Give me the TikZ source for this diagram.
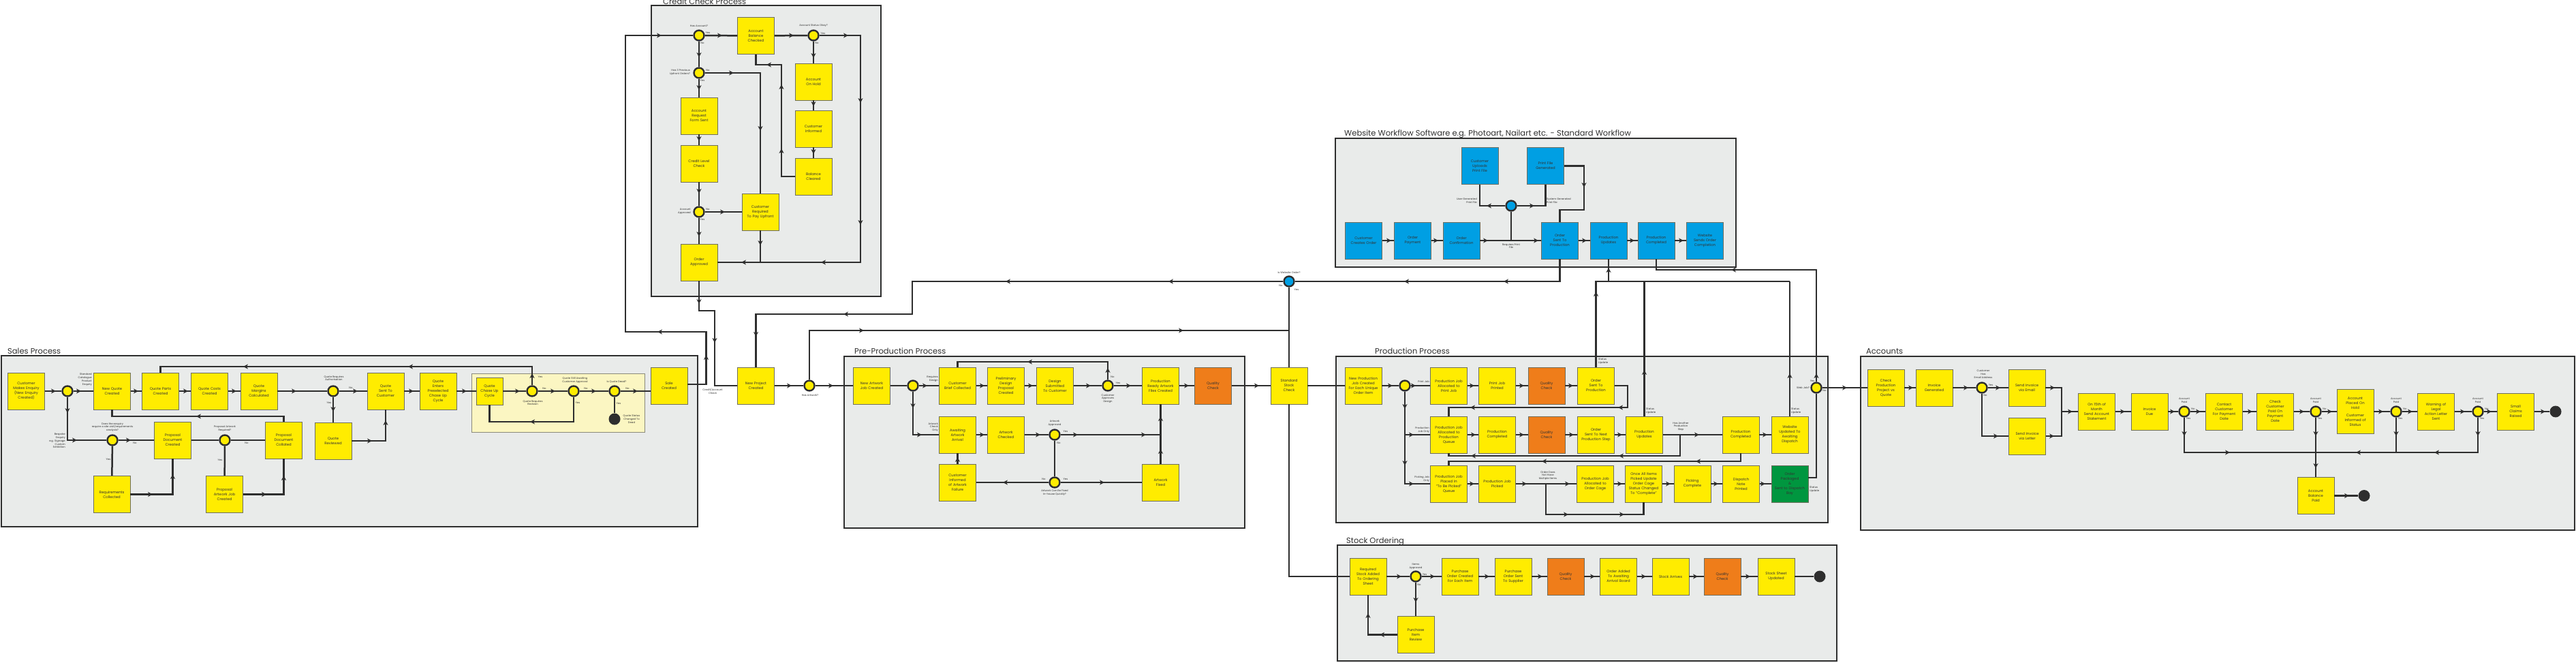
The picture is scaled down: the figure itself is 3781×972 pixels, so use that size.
\documentclass[tikz,border=0pt]{standalone}
\usepackage{fontspec}
\setmainfont{Poppins}
\definecolor{ybox}{HTML}{FFEC00}
\definecolor{obox}{HTML}{EF7D1A}
\definecolor{bluebox}{HTML}{009FE3}
\definecolor{greenbox}{HTML}{00963F}
\definecolor{framefill}{HTML}{E9EBEA}
\definecolor{grpfill}{HTML}{FBF6C2}
\definecolor{grpb}{HTML}{8A8A7A}
\definecolor{linec}{HTML}{2E2E2E}
\definecolor{boxb}{HTML}{6E6E5E}
\definecolor{txt}{HTML}{333333}
\newcommand\arrmark[3]{\fill[linec, shift={(#1,#2)}, rotate=#3] (4,0) -- (-3,3.6) -- (-1,0) -- (-3,-3.6) -- cycle;}
\newcommand\aR[2]{\arrmark{#1}{#2}{0}}
\newcommand\aL[2]{\arrmark{#1}{#2}{180}}
\newcommand\aU[2]{\arrmark{#1}{#2}{90}}
\newcommand\aD[2]{\arrmark{#1}{#2}{270}}
\tikzset{
 box/.style={rectangle, draw=boxb, line width=0.8pt, fill=ybox, minimum width=54pt, minimum height=54pt, inner sep=0.5pt, text width=52pt, align=center, font=\fontsize{5.3}{7}\selectfont, text=txt},
 obx/.style={box, fill=obox},
 bbx/.style={box, fill=bluebox},
 gbx/.style={box, fill=greenbox},
 dec/.style={circle, fill=ybox, draw=linec, line width=2.4pt, minimum size=15pt, inner sep=0pt},
 bdec/.style={dec, fill=bluebox},
 enddot/.style={circle, fill=linec, minimum size=17pt, inner sep=0pt},
 ln/.style={draw=linec, line width=2.5pt},
 frame/.style={draw=linec, line width=2.8pt, fill=framefill},
 ttl/.style={font=\fontsize{11.5}{13}\selectfont, anchor=base west, inner sep=0pt, text=linec},
 lbl/.style={font=\fontsize{3.8}{4.8}\selectfont, align=center, inner sep=0pt, text=txt},
 lblr/.style={lbl, align=right, anchor=east},
 lbll/.style={lbl, align=left, anchor=west}
}
\begin{document}
\begin{tikzpicture}[x=1pt,y=-1pt]
\useasboundingbox (0,0) rectangle (3781,972);
% ---------- frames ----------
\draw[frame] (2,522) rectangle (1024,773);
\draw[frame] (956,8) rectangle (1293,435);
\draw[frame] (1239,523) rectangle (1827,775);
\draw[frame] (1960,203) rectangle (2548,392);
\draw[frame] (1961,523) rectangle (2683,767);
\draw[frame] (2731,523) rectangle (3779,778);
\draw[frame] (1963,800) rectangle (2696,970);
\draw[fill=grpfill, draw=grpb, line width=1pt] (692,548) rectangle (946,634);
\node[ttl] (tsales) at (11,519) {Sales Process};
\node[ttl] (tcredit) at (973,6) {Credit Check Process};
\node[ttl] (tpre) at (1254,519) {Pre-Production Process};
\node[ttl] (tweb) at (1973,199) {Website Workflow Software e.g. Photoart, Nailart etc. - Standard Workflow};
\node[ttl] (tprod) at (2018,519) {Production Process};
\node[ttl] (tacc) at (2739,519) {Accounts};
\node[ttl] (tstock) at (1976,797) {Stock Ordering};
% ---------- Sales nodes ----------
\node[box] (s1) at (38.5,574) {Customer\\Makes Enquiry\\(New Enquiry\\Created)};
\node[dec] (sd1) at (99,574) {};
\node[box] (s2) at (164.5,574) {New Quote\\Created};
\node[box] (s3) at (235.5,574) {Quote Parts\\Created};
\node[box] (s4) at (307.5,574) {Quote Costs\\Created};
\node[box] (s5) at (380,574) {Quote\\Margins\\Calculated};
\node[dec] (sd2) at (489,574) {};
\node[box] (s6) at (489,647) {Quote\\Reviewed};
\node[box] (s7) at (566,574) {Quote\\Sent To\\Customer};
\node[box] (s8) at (643,574) {Quote\\Enters\\Preselected\\Chase Up\\Cycle};
\node[box, minimum width=39pt, minimum height=40pt, text width=37pt] (s9) at (718.5,574) {Quote\\Chase Up\\Cycle};
\node[dec] (sd3) at (781,574) {};
\node[dec] (sd4) at (842,574) {};
\node[dec] (sd5) at (902,574) {};
\node[enddot] (se) at (902,615) {};
\node[box] (s10) at (982,566.5) {Sale\\Created};
\node[dec] (sd6) at (165,646) {};
\node[box] (s11) at (253.5,646) {Proposal\\Document\\Created};
\node[box] (s12) at (164,725.5) {Requirements\\Collected};
\node[dec] (sd7) at (330,646) {};
\node[box] (s13) at (416.5,646) {Proposal\\Document\\Collated};
\node[box] (s14) at (329.5,725.5) {Proposal\\Artwork Job\\Created};
% Sales labels
\node[lblr] at (135,557) {Standard\\Catalogue\\Product\\Enquiry};
\node[lblr] at (96,647) {Bespoke\\Enquiry\\e.g. Signage\\Custom\\Exhibition};
\node[lbl] at (165,627) {Does the enquiry\\require a site visit/requirements\\analysis?};
\node[lbl] at (198,650) {No};
\node[lbl] at (159,674) {Yes};
\node[lbl] at (330,629) {Proposal Artwork\\Required?};
\node[lbl] at (362,650) {No};
\node[lbl] at (323,675) {Yes};
\node[lbl] at (490,555) {Quote Requires\\Authorisation};
\node[lbl] at (515,569) {No};
\node[lbl] at (483,591) {Yes};
\node[lbl] at (793,553) {Yes};
\node[lbl] at (799,570) {No};
\node[lbl] at (782,591) {Quote Requires\\Revision};
\node[lbl] at (844,558) {Quote Still Awaiting\\Customer Approval};
\node[lbl] at (860,570) {No};
\node[lbl] at (848,591) {Yes};
\node[lbl] at (905,560) {Is Quote Dead?};
\node[lbl] at (921,570) {No};
\node[lbl] at (908,592) {Yes};
\node[lbl] at (927,615) {Quote Status\\Changed To\\Dead};
\node[lbl] at (1046,574) {Credit/Account\\Check};
% ---------- Credit nodes ----------
\node[dec] (cd1) at (1026,52) {};
\node[box] (c1) at (1109.5,52.5) {Account\\Balance\\Checked};
\node[dec] (cd2) at (1194,52) {};
\node[box] (c2) at (1194,120) {Account\\On Hold};
\node[box] (c3) at (1194,189) {Customer\\Informed};
\node[box] (c4) at (1194,259) {Balance\\Cleared};
\node[dec] (cd3) at (1026,107) {};
\node[box] (c5) at (1026,170) {Account\\Request\\Form Sent};
\node[box] (c6) at (1026,240) {Credit Level\\Check};
\node[dec] (cd4) at (1026,311) {};
\node[box] (c7) at (1116,311) {Customer\\Required\\To Pay Upfront};
\node[box] (c8) at (1026,385) {Order\\Approved};
\node[lbl] at (1026,38) {Has Account?};
\node[lbl] at (1039,48) {Yes};
\node[lbl] at (1031,63) {No};
\node[lbl] at (1194,38) {Account Status Okay?};
\node[lbl] at (1208,49) {Yes};
\node[lbl] at (1199,63) {No};
\node[lblr] at (1013,106) {Has 3 Previous\\Upfront Orders?};
\node[lbl] at (1039,103) {No};
\node[lbl] at (1031,118) {Yes};
\node[lblr] at (1014,310) {Account\\Approved};
\node[lbl] at (1039,307) {No};
\node[lbl] at (1031,322) {Yes};
% ---------- middle ----------
\node[box] (m1) at (1109.5,566) {New Project\\Created};
\node[dec] (md1) at (1188,566) {};
\node[lbl] at (1189,580) {Has Artwork?};
\node[bdec] (bd) at (1892,413) {};
\node[lbl] at (1892,400) {Is Website Order?};
\node[lbl] at (1880,419) {No};
\node[lbl] at (1903,425) {Yes};
\node[box] (st) at (1892,566) {Standard\\Stock\\Check};
% ---------- Pre-production ----------
\node[box] (p1) at (1279.5,566) {New Artwork\\Job Created};
\node[dec] (pd1) at (1340,566) {};
\node[box] (p2) at (1405.5,566) {Customer\\Brief Collected};
\node[box] (p3) at (1405.5,638) {Awaiting\\Artwork\\Arrival};
\node[box] (p4) at (1405.5,708) {Customer\\Informed\\of Artwork\\Failure};
\node[box] (p5) at (1476.5,566) {Preliminary\\Design\\Proposal\\Created};
\node[box] (p6) at (1548.5,566) {Design\\Submitted\\To Customer};
\node[dec] (pd2) at (1626,566) {};
\node[box] (p7) at (1703.5,566) {Production\\Ready Artwork\\Files Created};
\node[obx] (p8) at (1780.5,566) {Quality\\Check};
\node[box] (p9) at (1476.5,638) {Artwork\\Checked};
\node[dec] (pd3) at (1548,638) {};
\node[dec] (pd4) at (1548,708) {};
\node[box] (p10) at (1703.5,708) {Artwork\\Fixed};
\node[lblr] at (1377,556) {Requires\\Design};
\node[lblr] at (1377,627) {Artwork\\Check\\Only};
\node[lbl] at (1626,585) {Customer\\Approves\\Design};
\node[lbl] at (1633,553) {No};
\node[lbl] at (1641,562) {Yes};
\node[lbl] at (1548,621) {Artwork\\Approved};
\node[lbl] at (1564,633) {Yes};
\node[lbl] at (1554,650) {No};
\node[lbl] at (1548,723) {Artwork Can Be Fixed\\In-house Quickly?};
\node[lbl] at (1532,703) {No};
\node[lbl] at (1564,703) {Yes};
% ---------- Web workflow ----------
\node[bbx] (w1) at (2001.5,353) {Customer\\Creates Order};
\node[bbx] (w2) at (2073.5,353) {Order\\Payment};
\node[bbx] (w3) at (2145,353) {Order\\Confirmation};
\node[bbx] (w4) at (2289.5,353) {Order\\Sent To\\Production};
\node[bbx] (w5) at (2361,353) {Production\\Updates};
\node[bbx] (w6) at (2431,353) {Production\\Completed};
\node[bbx] (w7) at (2502.5,353) {Website\\Sends Order\\Completion};
\node[bbx] (w8) at (2172,243.5) {Customer\\Uploads\\Print File};
\node[bbx] (w9) at (2268.5,243.5) {Print File\\Generated};
\node[bdec] (wd) at (2218,302) {};
\node[lblr] at (2168,295) {User Generated\\Print File};
\node[lbll] at (2270,295) {System Generated\\Print File};
\node[lbl] at (2218,361) {Requires Print\\File};
% ---------- Production ----------
\node[box] (n1) at (2001,566) {New Production\\Job Created\\For Each Unique\\Order Item};
\node[dec] (nd1) at (2062,566) {};
\node[box] (n2) at (2126.5,566) {Production Job\\Allocated to\\Print Job};
\node[box] (n3) at (2197.5,566) {Print Job\\Printed};
\node[obx] (n3q) at (2270,566) {Quality\\Check};
\node[box] (n4) at (2342.5,566) {Order\\Sent To\\Production};
\node[box] (n5) at (2126.5,638) {Production Job\\Allocated to\\Production\\Queue};
\node[box] (n6) at (2197.5,638) {Production\\Completed};
\node[obx] (n6q) at (2270,638) {Quality\\Check};
\node[box] (n7) at (2342.5,638) {Order\\Sent To Next\\Production Step};
\node[box] (n8) at (2413.5,638) {Production\\Updates};
\node[box] (n9) at (2555,638) {Production\\Completed};
\node[box] (n10) at (2627,638) {Website\\Updated To\\Awaiting\\Dispatch};
\node[box] (n11) at (2126.5,710) {Production Job\\Placed In\\"To Be Picked"\\Queue};
\node[box] (n12) at (2197.5,710) {Production Job\\Picked};
\node[box] (n13) at (2341.5,710) {Production Job\\Allocated to\\Order Cage};
\node[box] (n14) at (2412.5,710) {Once All Items\\Picked Update\\Order Cage\\Status Changed\\To "Complete"};
\node[box] (n15) at (2484,710) {Picking\\Complete};
\node[box] (n16) at (2555.5,710) {Dispatch\\Note\\Printed};
\node[gbx] (n17) at (2627,710) {Order\\Packaged\\\&\\Sent to Dispatch\\Bay};
\node[dec] (nd2) at (2666,569) {};
\node[lblr] at (2098,560) {Print Job};
\node[lblr] at (2098,631) {Production\\Job Only};
\node[lblr] at (2098,703) {Picking Job\\Only};
\node[lbll] at (2346,530) {Status\\Update};
\node[lbll] at (2416,603) {Status\\Update};
\node[lbl] at (2467,626) {Has Another\\Production\\Step};
\node[lbll] at (2629,603) {Status\\Update};
\node[lbl] at (2272,698) {Order Does\\Not Have\\Multiple Items};
\node[lbll] at (2656,718) {Status\\Update};
\node[lblr] at (2656,569) {Web Job?};
\node[lbl] at (2660,559) {Yes};
\node[lbl] at (2678,573) {No};
% ---------- Accounts ----------
\node[box] (a1) at (2768,569) {Check\\Production\\Project vs\\Quote};
\node[box] (a2) at (2839,569) {Invoice\\Generated};
\node[dec] (ad1) at (2909,569) {};
\node[box] (a3) at (2975,569) {Send Invoice\\via Email};
\node[box] (a4) at (2975.5,640) {Send Invoice\\via Letter};
\node[box] (a5) at (3077.5,604) {On 15th of\\Month\\Send Account\\Statement};
\node[box] (a6) at (3155,604) {Invoice\\Due};
\node[dec] (ad2) at (3206,604) {};
\node[box] (a7) at (3264.5,604) {Contact\\Customer\\For Payment\\Date};
\node[box] (a8) at (3339.5,604) {Check\\Customer\\Paid On\\Payment\\Date};
\node[dec] (ad3) at (3399,604) {};
\node[box, minimum height=65pt] (a9) at (3457,604) {Account\\Placed On\\Hold\\[4pt]Customer\\Informed of\\Status};
\node[dec] (ad4) at (3517,604) {};
\node[box] (a10) at (3575.5,604) {Warning of\\Legal\\Action Letter\\Sent};
\node[dec] (ad5) at (3637,604) {};
\node[box] (a11) at (3692.5,604) {Small\\Claims\\Raised};
\node[enddot] (ae1) at (3751,604) {};
\node[box] (a12) at (3399,727.5) {Account\\Balance\\Paid};
\node[enddot] (ae2) at (3470,727.5) {};
\node[lbl] at (2911,549) {Customer\\Has\\Email Address};
\node[lbl] at (2922,565) {Yes};
\node[lbl] at (2914,580) {No};
\foreach \xx in {3206,3399,3517,3637} {
  \node[lbl] at (\xx,588) {Account\\Paid};
  \node[lbl] at (\xx+13,600) {No};
  \node[lbl] at (\xx+6,614) {Yes};
}
% ---------- Stock ordering ----------
\node[box] (r1) at (2008,846) {Required\\Stock Added\\To Ordering\\Sheet};
\node[dec] (rd) at (2078,846) {};
\node[box] (r2) at (2143,846) {Purchase\\Order Created\\For Each Item};
\node[box] (r3) at (2221,846) {Purchase\\Order Sent\\To Supplier};
\node[obx] (r4) at (2298,846) {Quality\\Check};
\node[box] (r5) at (2375.5,846) {Order Added\\To Awaiting\\Arrival Board};
\node[box] (r6) at (2452,846) {Stock Arrives};
\node[obx] (r7) at (2528,846) {Quality\\Check};
\node[box] (r8) at (2607,846) {Stock Sheet\\Updated};
\node[enddot] (re) at (2671,846) {};
\node[box] (r9) at (2078,931.5) {Purchase\\Item\\Review};
\node[lbl] at (2078,831) {Items\\Approved};
\node[lbl] at (2091,843) {Yes};
\node[lbl] at (2083,858) {No};
% ---------- coordinates ----------
\coordinate (bus) at (2361,413);
\coordinate (another) at (2466,638);
\coordinate (nomulti) at (2269,710);
% ---------- Sales connectors ----------
\draw[ln] (s1) -- (sd1);
\draw[ln] (sd1) -- (s2);
\draw[ln] (s2) -- (s3);
\draw[ln] (s3) -- (s4);
\draw[ln] (s4) -- (s5);
\draw[ln] (s5) -- (sd2);
\draw[ln] (sd2) -- (s6);
\draw[ln] (sd2) -- (s7);
\draw[ln] (s7) -- (s8);
\draw[ln] (s8) -- (s9);
\draw[ln] (s9) -- (sd3);
\draw[ln] (sd3) -- (sd4);
\draw[ln] (sd4) -- (sd5);
\draw[ln] (sd5) -- (sd5 -| s10.west);
\draw[ln] (sd5) -- (se);
\draw[ln] (s6.east) -| (s7.south);
\draw[ln] (sd3) |- (500,538) -| (s3.north);
\draw[ln] (sd4) |- (780,619) -| (s9.south);
\draw[ln] (sd1) |- (sd6);
\draw[ln] (sd6) -- (s11);
\draw[ln] (sd6) -- (s12);
\draw[ln] (s11) -- (sd7);
\draw[ln] (sd7) -- (s13);
\draw[ln] (sd7) -- (s14);
\draw[ln] (s12.east) -| (s11.south);
\draw[ln] (s14.east) -| (s13.south);
\draw[ln] (s13.north) |- (300,611) -| (s2.south);
\draw[ln] (s10.east |- 0,564) -| (1036.5,487) -| (918,52) -- (cd1);
% ---------- Credit connectors ----------
\draw[ln] (cd1) -- (c1);
\draw[ln] (c1) -- (cd2);
\draw[ln] (cd2) -| (1263,385) -- (c8.east);
\draw[ln] (cd2) -- (c2);
\draw[ln] (c2) -- (c3);
\draw[ln] (c3) -- (c4);
\draw[ln] (c4.west) -| (1147,95) -| (c1.south);
\draw[ln] (cd1) -- (cd3);
\draw[ln] (cd3) -| (c7.north);
\draw[ln] (cd3) -- (c5);
\draw[ln] (c5) -- (c6);
\draw[ln] (c6) -- (cd4);
\draw[ln] (cd4) -- (c7);
\draw[ln] (cd4) -- (c8);
\draw[ln] (c7.south) -- (c7.south |- c8);
\draw[ln] (c8.south) |- (1049,456) |- (m1.west);
% ---------- middle connectors ----------
\draw[ln] (m1) -- (md1);
\draw[ln] (md1) -- (p1);
\draw[ln] (bd) -| (1339,461) -| (m1.north);
\draw[ln] (md1) |- (1892,485);
\draw[ln] (bd) -- (st);
\draw[ln] (w4.south) |- (bd);
\draw[ln] (st) -- (n1);
\draw[ln] (st.south) |- (r1.west);
% ---------- Pre-production connectors ----------
\draw[ln] (p1) -- (pd1);
\draw[ln] (pd1) -- (p2);
\draw[ln] (pd1) |- (p3.west);
\draw[ln] (p4) -- (p3);
\draw[ln] (p2) -- (p5);
\draw[ln] (p5) -- (p6);
\draw[ln] (p6) -- (pd2);
\draw[ln] (pd2) -- (p7);
\draw[ln] (p7) -- (p8);
\draw[ln] (p8) -- (st);
\draw[ln] (pd2) |- (1500,531) -| (p2.north);
\draw[ln] (p3) -- (p9);
\draw[ln] (p9) -- (pd3);
\draw[ln] (pd3) -- (p10.north |- pd3);
\draw[ln] (p10.north) -- (p7.south);
\draw[ln] (pd3) -- (pd4);
\draw[ln] (pd4) -- (p4);
\draw[ln] (pd4) -- (p10);
% ---------- Web connectors ----------
\draw[ln] (w1) -- (w2);
\draw[ln] (w2) -- (w3);
\draw[ln] (w3) -- (w4);
\draw[ln] (w4) -- (w5);
\draw[ln] (w5) -- (w6);
\draw[ln] (w6) -- (w7);
\draw[ln] (wd) -- (wd |- w3);
\draw[ln] (wd) -| (w8.south);
\draw[ln] (wd) -| (w9.south);
\draw[ln] (w9.east) -| (2325,308) -| (w4.north);
\draw[ln] (n4.north) |- (n10.north |- bus);
\draw[ln] (n8.north) -- (n8.north |- bus);
\draw[ln] (n10.north) -- (n10.north |- bus);
\draw[ln] (bus) -- (w5.south);
\draw[ln] (nd2) |- (2500,396) -| (w6.south);
% ---------- Production connectors ----------
\draw[ln] (n1) -- (nd1);
\draw[ln] (nd1) -- (n2);
\draw[ln] (n2) -- (n3);
\draw[ln] (n3) -- (n3q);
\draw[ln] (n3q) -- (n4);
\draw[ln] (n4.east) -| (2389,598) -| (n5.north);
\draw[ln] (nd1) |- (n11.west);
\draw[ln] (nd1 |- n5) -- (n5.west);
\draw[ln] (n5) -- (n6);
\draw[ln] (n6) -- (n6q);
\draw[ln] (n6q) -- (n7);
\draw[ln] (n7) -- (n8);
\draw[ln] (n8) -- (n9);
\draw[ln] (another) |- (2300,669) -| (n5.south);
\draw[ln] (n9.south) |- (2300,677) -| (n11.north);
\draw[ln] (n9) -- (n10);
\draw[ln] (n11) -- (n12);
\draw[ln] (n12) -- (n13);
\draw[ln] (nomulti) |- (2350,755) -| (n14.south);
\draw[ln] (n13) -- (n14);
\draw[ln] (n14) -- (n15);
\draw[ln] (n15) -- (n16);
\draw[ln] (n16) -- (n17);
\draw[ln] (n17.east |- 0,701) -| (nd2);
\draw[ln] (nd2) -- (a1);
% ---------- Accounts connectors ----------
\draw[ln] (a1) -- (a2);
\draw[ln] (a2) -- (ad1);
\draw[ln] (ad1) -- (a3);
\draw[ln] (ad1) |- (a4.west);
\draw[ln] (a3.east) -| (3026,604) -- (a5.west);
\draw[ln] (a4.east) -| (3026,604);
\draw[ln] (a5) -- (a6);
\draw[ln] (a6) -- (ad2);
\draw[ln] (ad2) -- (a7);
\draw[ln] (a7) -- (a8);
\draw[ln] (a8) -- (ad3);
\draw[ln] (ad3) -- (a9);
\draw[ln] (a9) -- (ad4);
\draw[ln] (ad4) -- (a10);
\draw[ln] (a10) -- (ad5);
\draw[ln] (ad5) -- (a11);
\draw[ln] (a11) -- (ae1);
\draw[ln] (ad2) |- (ad3 |- 0,664);
\draw[ln] (ad3) -- (a12);
\draw[ln] (ad4) |- (ad3 |- 0,664);
\draw[ln] (ad5) |- (ad4 |- 0,664);
\draw[ln] (a12) -- (ae2);
% ---------- Stock connectors ----------
\draw[ln] (r1) -- (rd);
\draw[ln] (rd) -- (r2);
\draw[ln] (r2) -- (r3);
\draw[ln] (r3) -- (r4);
\draw[ln] (r4) -- (r5);
\draw[ln] (r5) -- (r6);
\draw[ln] (r6) -- (r7);
\draw[ln] (r7) -- (r8);
\draw[ln] (r8) -- (re);
\draw[ln] (rd) -- (r9);
\draw[ln] (r9.west) -| (r1.south);
% ---------- arrow marks ----------
\aR{78}{574} \aR{115}{574} \aD{99}{602} \aR{109}{646}
\aR{199}{574} \aR{272}{574} \aR{343}{574} \aR{431}{574}
\aD{489}{600} \aR{521}{574} \aR{542}{647} \aU{566}{621}
\aR{603}{574} \aR{681}{574} \aR{759}{574} \aR{811}{574} \aR{871}{574} \aR{932}{574}
\aL{782}{619} \aU{781}{552} \aL{603}{538} \aL{361}{538}
\aR{188}{646} \aR{220}{725.5} \aU{253.5}{700} \aR{387}{725.5} \aU{416.5}{702} \aL{292}{611}
\aU{1036.5}{525} \aL{969}{487} \aR{967}{52}
\aR{1056}{52} \aR{1161}{52} \aR{1241}{52} \aD{1263}{147} \aD{1263}{326} \aL{1209}{385} \aL{1092}{385}
\aD{1194}{81} \aD{1194}{152} \aD{1194}{222}
\aU{1147}{222} \aU{1147}{128} \aL{1129}{95}
\aD{1026}{80} \aR{1073}{107} \aD{1116}{188} \aD{1026}{128} \aD{1026}{203} \aD{1026}{280} \aR{1060}{311} \aD{1026}{343} \aD{1116}{356}
\aD{1026}{442} \aD{1049}{499}
\aR{1158}{566} \aR{1219}{566} \aD{1109.5}{490} \aL{1242}{461} \aL{1480}{413} \aL{1719}{413} \aR{1264}{485} \aR{1733}{485} \aL{2065}{413} \aL{2211}{413}
\aR{1844}{566}
\aR{1357}{566} \aD{1340}{595} \aR{1349}{638} \aU{1405.5}{675} \aR{1441}{566} \aR{1512}{566} \aR{1597}{566} \aR{1656}{566} \aR{1741}{566}
\aU{1626}{544} \aL{1512}{531} \aR{1441}{638} \aR{1523}{638} \aR{1578}{638} \aR{1678}{638} \aU{1703.5}{663} \aU{1703.5}{615} \aL{1476}{708} \aR{1617}{708}
\aR{2038}{353} \aR{2107}{353} \aR{2180}{353} \aR{2254}{353} \aR{2325}{353} \aR{2395}{353} \aR{2467}{353}
\aL{2186}{302} \aR{2248}{302} \aD{2325}{271} \aU{2361}{397} \aU{2342.5}{432} \aL{2545}{396}
\aR{2040}{566} \aR{2074}{566} \aR{2160}{566} \aR{2233}{566} \aR{2305}{566} \aL{2379}{598} \aL{2162}{598}
\aD{2062}{596} \aD{2062}{679} \aR{2071}{638} \aR{2071}{710} \aR{2162}{638} \aR{2233}{638} \aR{2306}{638} \aR{2377}{638}
\aU{2413.5}{547} \aR{2490}{638} \aL{2380}{669} \aL{2163}{669} \aL{2493}{677} \aL{2267}{677} \aR{2590}{638} \aU{2627}{552}
\aR{2160}{710} \aR{2237}{710} \aR{2300}{710} \aR{2298}{755} \aR{2380}{755} \aR{2377}{710} \aR{2448}{710} \aR{2518}{710} \aR{2587}{710}
\aU{2666}{552} \aR{2707}{569}
\aR{2804}{569} \aR{2885}{569} \aR{2932}{569} \aR{2929}{640} \aR{3012}{569} \aR{3011}{640} \aR{3038}{604}
\aR{3115}{604} \aR{3188}{604} \aR{3226}{604} \aR{3302}{604} \aR{3378}{604} \aR{3419}{604} \aR{3494}{604} \aR{3537}{604} \aR{3614}{604} \aR{3653}{604} \aR{3732}{604}
\aD{3206}{636} \aR{3269}{664} \aD{3399}{636} \aD{3399}{683} \aD{3517}{636} \aL{3462}{664} \aD{3637}{636} \aL{3577}{664} \aR{3444}{727.5}
\aR{2053}{846} \aR{2102}{846} \aR{2182}{846} \aR{2260}{846} \aR{2337}{846} \aR{2412}{846} \aR{2488}{846} \aR{2565}{846}
\aD{2078}{880} \aL{2029}{931.5} \aU{2008}{904}
\end{tikzpicture}
\end{document}
